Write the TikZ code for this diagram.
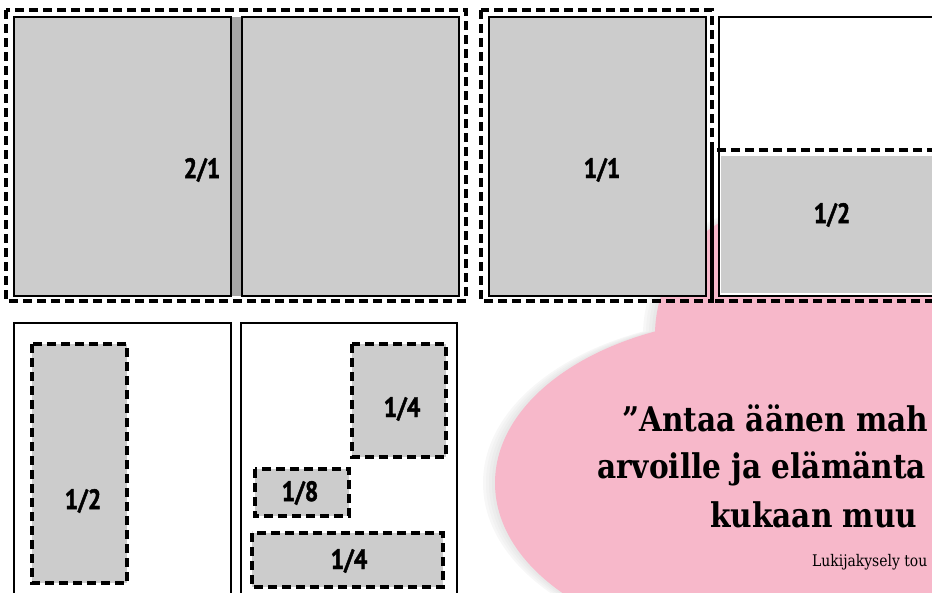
\documentclass[tikz,border=0pt]{standalone}
\usepackage{fontspec}
\newfontfamily\labelfont[FakeStretch=0.85, BoldFeatures={FakeBold=1.5}]{PT Sans}
\newfontfamily\quotefont[FakeStretch=0.87]{DejaVu Serif}
\usepackage{tikz}
\usetikzlibrary{positioning}
\definecolor{pagegrey}{RGB}{204,204,204}
\definecolor{guttergrey}{RGB}{166,166,166}
\definecolor{quotepink}{RGB}{247,184,202}
\tikzset{
    page/.style={draw=black, line width=1.8pt},
    spread/.style={draw=black, line width=3.5pt, dash pattern=on 9pt off 5pt},
    adbox/.style={draw=black, fill=pagegrey, line width=3.5pt, dash pattern=on 9pt off 5pt},
    sizelabel/.style={font=\labelfont\bfseries\fontsize{28}{32}\selectfont, inner sep=0pt},
    quoteline/.style={font=\quotefont\bfseries\fontsize{34}{40}\selectfont, anchor=base west, inner sep=0pt},
    sourceline/.style={font=\quotefont\fontsize{16}{19}\selectfont, anchor=base west, inner sep=0pt},
}

\begin{document}
\begin{tikzpicture}[x=1pt, y=-1pt]
    \useasboundingbox (0,0) rectangle (932,592);
    \clip (0,0) rectangle (932,592);
    % pink quote bubble, under the pages
    \foreach \s/\c in {12/3, 9/5, 6/7, 3/9} {
        \fill[black!\c, xshift=-\s pt] (785,335) circle [radius=130];
        \fill[black!\c, xshift=-\s pt] (760,483) ellipse [x radius=265, y radius=165];
    }
    \fill[quotepink] (785,335) circle [radius=130];
    \fill[quotepink] (760,483) ellipse [x radius=265, y radius=165];
    \fill[quotepink] (785,250) rectangle (945,600);
    % 2/1 spread
    \fill[guttergrey] (231,17) rectangle (242,296);
    \draw[page, fill=pagegrey] (14,17) rectangle (231,296);
    \draw[page, fill=pagegrey] (242,17) rectangle (459,296);
    \draw[spread] (6,10) rectangle (466,301);
    \node[sizelabel] (spreadlabel) at (202,170) {2/1};
    % 1/1 and 1/2 pages
    \draw[page, fill=pagegrey] (489,17) rectangle (706,296);
    \draw[spread] (481,10) rectangle (712,301);
    \node[sizelabel] (fulllabel) at (602,170) {1/1};
    \draw[page, fill=white] (719,17) rectangle (945,296);
    \fill[pagegrey] (721,156) rectangle (945,293);
    \draw[spread] (712,150) rectangle (960,301);
    \node[sizelabel] (halflabel) at (832,215) {1/2};
    % lower pages with small ads
    \draw[page, fill=white] (14,323) rectangle (231,610);
    \draw[page, fill=white] (241,323) rectangle (457,610);
    \foreach \name/\xa/\ya/\xb/\yb/\lx/\ly/\txt in {
        vhalf/32/344/127/583/83/501/{1/2},
        quarterA/352/344/446/457/402/409/{1/4},
        eighth/255/469/349/516/300/493/{1/8},
        quarterB/252/533/443/587/349/561/{1/4}} {
        \draw[adbox] (\xa,\ya) rectangle (\xb,\yb);
        \node[sizelabel] (\name) at (\lx,\ly) {\txt};
    }
    % quote
    \node[quoteline] (quoteA) at (622,431) {”Antaa äänen mah};
    \node[quoteline] (quoteB) at (597,478) {arvoille ja elämänta};
    \node[quoteline] (quoteC) at (710,527) {kukaan muu};
    \node[sourceline] (source) at (812,566) {Lukijakysely tou};
\end{tikzpicture}
\end{document}
